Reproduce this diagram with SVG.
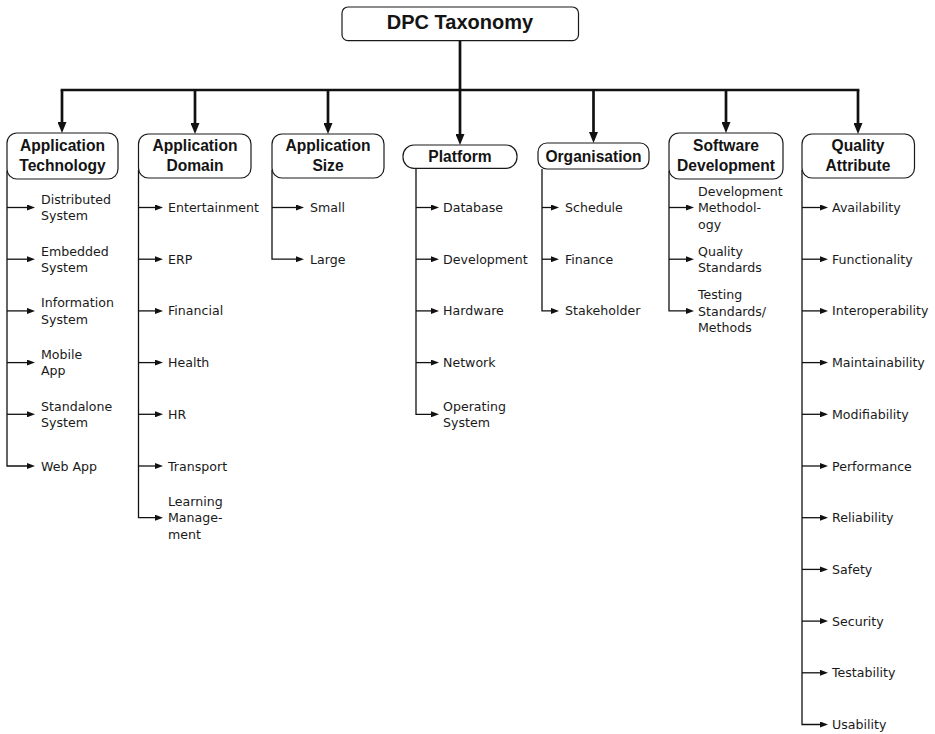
<svg xmlns="http://www.w3.org/2000/svg" width="935" height="734" viewBox="0 0 935 734">
<style>
.box{fill:#fff;stroke:#1a1a1a;stroke-width:1.2}
.h{font-family:"Liberation Sans",Arial,sans-serif;font-weight:bold;font-size:15.6px;fill:#141414;text-anchor:middle}
.t{font-family:"Liberation Sans",Arial,sans-serif;font-weight:bold;font-size:20px;fill:#141414;text-anchor:middle}
.c{font-family:"DejaVu Sans",sans-serif;font-size:12.6px;fill:#1a1a1a}
.big{fill:none;stroke:#111;stroke-width:2.7}
.sm{fill:none;stroke:#111;stroke-width:1.3}
</style>
<defs>
<marker id="ab" viewBox="0 -4.5 11 9" refX="0" refY="0" markerWidth="11" markerHeight="9" markerUnits="userSpaceOnUse" orient="auto"><path d="M0,-4.5 L11,0 L0,4.5 z" fill="#111"/></marker>
<marker id="as" viewBox="0 -3 8 6" refX="0" refY="0" markerWidth="8" markerHeight="6" markerUnits="userSpaceOnUse" orient="auto"><path d="M0,-3 L8,0 L0,3 z" fill="#111"/></marker>
</defs>
<g id="connectors">
<path class="big" d="M460,40.7 V90" />
<path class="big" d="M62,90 H858" stroke-linecap="square"/>
<path class="big" d="M62,90 V122" marker-end="url(#ab)"/>
<path class="big" d="M195,90 V123" marker-end="url(#ab)"/>
<path class="big" d="M328,90 V123" marker-end="url(#ab)"/>
<path class="big" d="M460,90 V134" marker-end="url(#ab)"/>
<path class="big" d="M593.5,90 V132" marker-end="url(#ab)"/>
<path class="big" d="M726,90 V122" marker-end="url(#ab)"/>
<path class="big" d="M858,90 V123" marker-end="url(#ab)"/>
<!-- Application Technology -->
<path class="sm" d="M7,171 V466 H27" marker-end="url(#as)"/>
<path class="sm" d="M7,207.5 H27" marker-end="url(#as)"/>
<path class="sm" d="M7,259.2 H27" marker-end="url(#as)"/>
<path class="sm" d="M7,310.9 H27" marker-end="url(#as)"/>
<path class="sm" d="M7,362.6 H27" marker-end="url(#as)"/>
<path class="sm" d="M7,414.3 H27" marker-end="url(#as)"/>
<!-- Application Domain -->
<path class="sm" d="M138.5,170 V517.7 H155" marker-end="url(#as)"/>
<path class="sm" d="M138.5,207.5 H155" marker-end="url(#as)"/>
<path class="sm" d="M138.5,259.2 H155" marker-end="url(#as)"/>
<path class="sm" d="M138.5,310.9 H155" marker-end="url(#as)"/>
<path class="sm" d="M138.5,362.6 H155" marker-end="url(#as)"/>
<path class="sm" d="M138.5,414.3 H155" marker-end="url(#as)"/>
<path class="sm" d="M138.5,466 H155" marker-end="url(#as)"/>
<!-- Application Size -->
<path class="sm" d="M272,170 V259.2 H296" marker-end="url(#as)"/>
<path class="sm" d="M272,207.5 H296" marker-end="url(#as)"/>
<!-- Platform -->
<path class="sm" d="M416,168 V414.3 H431" marker-end="url(#as)"/>
<path class="sm" d="M416,207.5 H431" marker-end="url(#as)"/>
<path class="sm" d="M416,259.2 H431" marker-end="url(#as)"/>
<path class="sm" d="M416,310.9 H431" marker-end="url(#as)"/>
<path class="sm" d="M416,362.6 H431" marker-end="url(#as)"/>
<!-- Organisation -->
<path class="sm" d="M542,169 V310.9 H551" marker-end="url(#as)"/>
<path class="sm" d="M542,207.5 H551" marker-end="url(#as)"/>
<path class="sm" d="M542,259.2 H551" marker-end="url(#as)"/>
<!-- Software Development -->
<path class="sm" d="M669,171 V310.9 H686" marker-end="url(#as)"/>
<path class="sm" d="M669,207.5 H686" marker-end="url(#as)"/>
<path class="sm" d="M669,259.2 H686" marker-end="url(#as)"/>
<!-- Quality Attribute -->
<path class="sm" d="M802,170 V724.5 H820" marker-end="url(#as)"/>
<path class="sm" d="M802,207.5 H820" marker-end="url(#as)"/>
<path class="sm" d="M802,259.2 H820" marker-end="url(#as)"/>
<path class="sm" d="M802,310.9 H820" marker-end="url(#as)"/>
<path class="sm" d="M802,362.6 H820" marker-end="url(#as)"/>
<path class="sm" d="M802,414.3 H820" marker-end="url(#as)"/>
<path class="sm" d="M802,466 H820" marker-end="url(#as)"/>
<path class="sm" d="M802,517.7 H820" marker-end="url(#as)"/>
<path class="sm" d="M802,569.4 H820" marker-end="url(#as)"/>
<path class="sm" d="M802,621.1 H820" marker-end="url(#as)"/>
<path class="sm" d="M802,672.8 H820" marker-end="url(#as)"/>
</g>
<g id="root">
<rect class="box" x="342" y="7" width="236.5" height="33.7" rx="6"/>
<text class="t" x="460" y="29.3">DPC Taxonomy</text>
</g>
<g id="app-technology">
<rect class="box" x="7" y="133" width="111" height="46" rx="10"/>
<text class="h" x="62.5"><tspan x="62.5" y="150.7">Application</tspan><tspan x="62.5" y="170.7">Technology</tspan></text>
</g>
<g id="app-domain">
<rect class="box" x="138.5" y="134" width="112.5" height="44" rx="10"/>
<text class="h" x="195"><tspan x="195" y="151.2">Application</tspan><tspan x="195" y="171.2">Domain</tspan></text>
</g>
<g id="app-size">
<rect class="box" x="272" y="134" width="112" height="44" rx="10"/>
<text class="h" x="328"><tspan x="328" y="151.2">Application</tspan><tspan x="328" y="171.2">Size</tspan></text>
</g>
<g id="platform">
<rect class="box" x="403" y="145" width="114" height="23.3" rx="11"/>
<text class="h" x="460" y="161.7">Platform</text>
</g>
<g id="organisation">
<rect class="box" x="538" y="143" width="111" height="26" rx="9"/>
<text class="h" x="593.5" y="161.7">Organisation</text>
</g>
<g id="software-development">
<rect class="box" x="669" y="133" width="114" height="46" rx="10"/>
<text class="h" x="726"><tspan x="726" y="150.7">Software</tspan><tspan x="726" y="170.7">Development</tspan></text>
</g>
<g id="quality-attribute">
<rect class="box" x="802" y="134" width="112.5" height="44" rx="10"/>
<text class="h" x="858"><tspan x="858" y="151.2">Quality</tspan><tspan x="858" y="171.2">Attribute</tspan></text>
</g>
<g id="app-technology-children">
<text class="c"><tspan x="41" y="203.8">Distributed</tspan><tspan x="41" y="220.3">System</tspan></text>
<text class="c"><tspan x="41" y="255.5">Embedded</tspan><tspan x="41" y="272">System</tspan></text>
<text class="c"><tspan x="41" y="307.2">Information</tspan><tspan x="41" y="323.7">System</tspan></text>
<text class="c"><tspan x="41" y="358.9">Mobile</tspan><tspan x="41" y="375.4">App</tspan></text>
<text class="c"><tspan x="41" y="410.6">Standalone</tspan><tspan x="41" y="427.1">System</tspan></text>
<text class="c" x="41" y="470.5">Web App</text>
</g>
<g id="app-domain-children">
<text class="c" x="168" y="212">Entertainment</text>
<text class="c" x="168" y="263.7">ERP</text>
<text class="c" x="168" y="315.4">Financial</text>
<text class="c" x="168" y="367.1">Health</text>
<text class="c" x="168" y="418.8">HR</text>
<text class="c" x="168" y="470.5">Transport</text>
<text class="c"><tspan x="168" y="505.9">Learning</tspan><tspan x="168" y="522.4">Manage-</tspan><tspan x="168" y="538.9">ment</tspan></text>
</g>
<g id="app-size-children">
<text class="c" x="310" y="212">Small</text>
<text class="c" x="310" y="263.7">Large</text>
</g>
<g id="platform-children">
<text class="c" x="443" y="212">Database</text>
<text class="c" x="443" y="263.7">Development</text>
<text class="c" x="443" y="315.4">Hardware</text>
<text class="c" x="443" y="367.1">Network</text>
<text class="c"><tspan x="443" y="410.6">Operating</tspan><tspan x="443" y="427.1">System</tspan></text>
</g>
<g id="organisation-children">
<text class="c" x="565" y="212">Schedule</text>
<text class="c" x="565" y="263.7">Finance</text>
<text class="c" x="565" y="315.4">Stakeholder</text>
</g>
<g id="software-development-children">
<text class="c"><tspan x="698" y="195.7">Development</tspan><tspan x="698" y="212.2">Methodol-</tspan><tspan x="698" y="228.7">ogy</tspan></text>
<text class="c"><tspan x="698" y="255.5">Quality</tspan><tspan x="698" y="272">Standards</tspan></text>
<text class="c"><tspan x="698" y="299.1">Testing</tspan><tspan x="698" y="315.6">Standards/</tspan><tspan x="698" y="332.1">Methods</tspan></text>
</g>
<g id="quality-attribute-children">
<text class="c" x="832" y="212">Availability</text>
<text class="c" x="832" y="263.7">Functionality</text>
<text class="c" x="832" y="315.4">Interoperability</text>
<text class="c" x="832" y="367.1">Maintainability</text>
<text class="c" x="832" y="418.8">Modifiability</text>
<text class="c" x="832" y="470.5">Performance</text>
<text class="c" x="832" y="522.2">Reliability</text>
<text class="c" x="832" y="573.9">Safety</text>
<text class="c" x="832" y="625.6">Security</text>
<text class="c" x="832" y="677.3">Testability</text>
<text class="c" x="832" y="729">Usability</text>
</g>
</svg>
